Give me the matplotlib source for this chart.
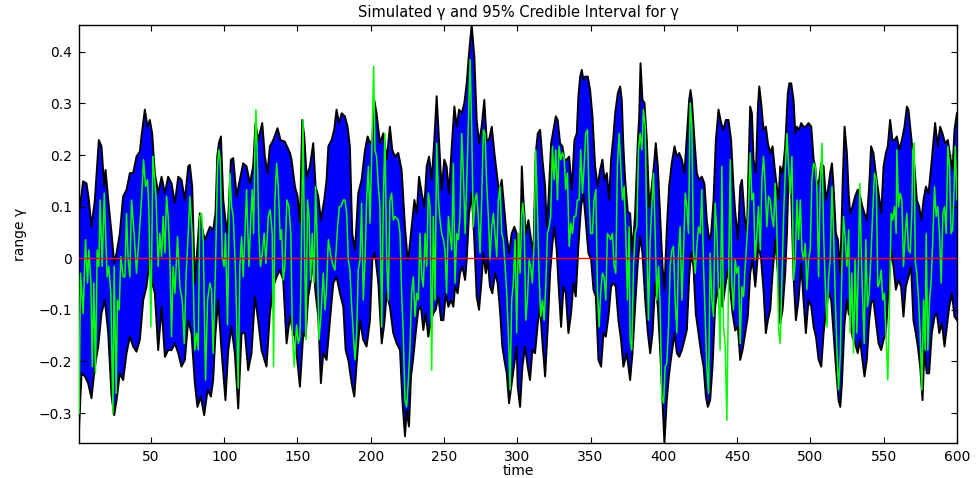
import numpy as np
import matplotlib
matplotlib.use("Agg")
import matplotlib.pyplot as plt

plt.rcParams['font.family'] = ['DejaVu Sans']

# ---- data ----
t_upper = [1, 3.8, 6.1, 7.7, 9.5, 11.8, 14.5, 16.3, 18.2, 19.1, 20.9, 23.2, 25.0, 26.6, 28.8, 31.1, 33.4, 35.7, 37.9, 40.2, 42.5, 43.6, 45.9, 47.7, 49.3, 50.9, 52.7, 55.0, 57.3, 59.6, 61.8, 64.1, 66.4, 68.7, 70.9, 73.2, 75.5,
           76.6, 78.2, 80.0, 81.8, 83.4, 85.7, 86.9, 90.3, 92.5, 94.1, 95.3, 96.4, 97.8, 99.4, 100.9, 102.3, 104.6, 106.2, 108.5, 110.7, 113.0, 115.3, 117.6, 119.8, 121.4, 123.2, 126.0, 127.8, 129.6, 131.2, 133.5, 136.4, 138.5, 141.4, 144.9, 146.0,
           148.3, 150.1, 151.7, 153.3, 154.7, 156.3, 158.5, 160.8, 162.4, 164.2, 166.0, 168.3, 169.9, 171.1, 173.3, 175.1, 176.7, 178.3, 180.2, 182.4, 184.2, 185.8, 187.4, 189.3, 191.5, 193.8, 196.1, 197.9, 199.5, 201.1, 202.4, 204.0, 206.3, 208.6, 210.9, 213.1, 214.7, 216.5, 218.8, 221.1, 223.4,
           225.2, 226.1, 227.9, 229.8, 231.4, 233.0, 234.8, 236.6, 238.2, 239.8, 241.6, 243.4, 245.0, 246.6, 248.4, 250.2, 251.8, 253.4, 255.3, 257.1, 258.7, 260.3, 262.1, 263.9, 265.5, 267.1, 268.9, 270.7, 272.3, 273.9, 275.7, 277.5, 279.1, 280.7, 282.6, 284.4, 286.0, 287.6, 289.4, 291.2, 292.8, 294.4, 296.2, 298.0, 299.6,
           300.3, 301.9, 303.1, 304.2, 305.8, 307.6, 309.4, 311.0, 312.6, 314.0, 315.6, 317.2, 319.0, 320.1, 321.3, 323.1, 324.7, 326.3, 327.6, 329.2, 330.8, 332.2, 333.8, 335.4, 337.2, 339.0, 340.6, 341.7, 342.9, 344.0, 345.1, 346.3, 348.1, 349.7, 351.3, 353.1, 354.9, 356.5, 358.1, 359.5, 361.1, 362.7, 364.0, 365.6, 366.8, 368.6, 370.2, 371.3, 372.4, 373.6,
           375.4, 377.0, 378.6, 380.4, 382.2, 383.2, 384.1, 385.4, 386.8, 388.4, 390.0, 391.8, 393.6, 394.5, 395.9, 397.5, 399.1, 400.4, 402.0, 403.6, 405.4, 407.3, 408.9, 410.5, 412.3, 414.1, 415.7, 417.3, 418.2, 419.1, 420.9, 422.5, 424.1, 425.9, 427.7, 429.3, 430.9, 432.3, 433.9, 435.5, 437.3, 439.1, 440.7, 442.3, 444.1, 445.9, 447.5,
           448.7, 450.5, 452.1, 453.3, 455.1, 456.7, 457.8, 458.9, 460.1, 461.2, 462.8, 464.2, 465.1, 466.4, 468.0, 469.6, 471.0, 472.6, 474.2, 475.5, 477.1, 478.3, 479.4, 481.0, 482.8, 484.6, 485.6, 486.9, 488.5, 489.7, 490.8, 492.4, 493.7, 495.3, 496.9, 498.7, 500.6, 502.2, 503.3, 504.4, 506.0, 507.4, 509.0, 510.6, 512.0, 513.5, 514.7, 515.8, 517.4, 518.8, 520.4, 522.0, 523.3, 524.9, 526.1,
           527.1, 528.7, 530.5, 532.3, 533.9, 535.5, 536.9, 538.5, 540.1, 541.4, 543.0, 544.6, 546.5, 548.3, 549.9, 551.5, 552.8, 554.4, 556.0, 557.4, 559.0, 560.6, 562.4, 564.2, 565.8, 566.9, 568.1, 569.2, 571.0, 572.6, 574.2, 575.6, 577.2, 578.8, 580.6, 582.4, 584.0, 585.1, 586.9, 588.5, 590.1, 591.9, 593.8, 595.4, 597.0, 598.3, 600.0]
upper = [0.087, 0.149, 0.145, 0.113, 0.061, 0.113, 0.229, 0.217, 0.139, 0.171, 0.113, 0.048, -0.010, 0.010, 0.048, 0.120, 0.133, 0.165, 0.165, 0.197, 0.207, 0.236, 0.288, 0.255, 0.268, 0.242, 0.165, 0.126, 0.158, 0.126, 0.158, 0.145, 0.107, 0.158, 0.152, 0.113, 0.178,
         0.181, 0.139, -0.048, 0.023, 0.087, 0.048, 0.036, 0.061, 0.055, 0.087, 0.197, 0.223, 0.236, 0.113, 0.074, 0.048, 0.191, 0.194, 0.120, 0.152, 0.184, 0.178, 0.145, 0.178, 0.262, 0.229, 0.262, 0.197, 0.165, 0.217, 0.229, 0.252, 0.229, 0.226, 0.204, 0.191,
         0.139, 0.120, 0.070, 0.268, 0.236, 0.158, 0.178, 0.223, 0.139, 0.120, 0.074, 0.113, 0.152, 0.217, 0.229, 0.249, 0.288, 0.262, 0.281, 0.275, 0.255, 0.217, 0.048, 0.016, 0.126, 0.152, 0.210, 0.236, 0.223, 0.229, 0.307, 0.281, 0.223, 0.242, 0.191, 0.255, 0.210, 0.197, 0.204, 0.171, 0.060,
         -0.003, 0.010, 0.061, 0.113, 0.087, 0.158, 0.126, 0.100, 0.178, 0.197, 0.152, 0.229, 0.314, 0.229, 0.133, 0.191, 0.178, 0.126, 0.217, 0.294, 0.255, 0.288, 0.281, 0.301, 0.339, 0.398, 0.452, 0.391, 0.268, 0.223, 0.255, 0.307, 0.229, 0.229, 0.255, 0.204, 0.165, 0.126, 0.152, 0.094, 0.042, 0.010, 0.048, 0.061, 0.048,
         -0.029, -0.003, 0.178, 0.113, 0.048, 0.074, 0.036, 0.010, 0.204, 0.242, 0.249, 0.191, 0.139, 0.061, 0.113, 0.223, 0.249, 0.275, 0.268, 0.223, 0.217, 0.191, 0.191, 0.197, 0.133, 0.229, 0.242, 0.314, 0.352, 0.365, 0.346, 0.352, 0.352, 0.326, 0.275, 0.178, 0.139, 0.171, 0.191, 0.152, 0.165, 0.113, 0.191, 0.236, 0.281, 0.320, 0.333, 0.307, 0.217, 0.152,
         0.090, 0.087, 0.010, 0.087, 0.223, 0.275, 0.378, 0.307, 0.301, 0.229, 0.100, 0.139, 0.191, 0.223, 0.178, 0.081, -0.016, -0.061, 0.055, 0.139, 0.184, 0.217, 0.197, 0.204, 0.191, 0.165, 0.236, 0.307, 0.326, 0.307, 0.229, 0.165, 0.152, 0.158, 0.145, 0.074, 0.036, 0.048, 0.113, 0.229, 0.288, 0.262, 0.249, 0.268, 0.268, 0.229, 0.139,
         0.090, 0.036, 0.139, 0.152, 0.081, 0.048, 0.178, 0.294, 0.281, 0.191, 0.165, 0.294, 0.333, 0.301, 0.249, 0.255, 0.223, 0.204, 0.217, 0.178, 0.139, 0.113, 0.178, 0.165, 0.217, 0.320, 0.339, 0.339, 0.307, 0.242, 0.255, 0.249, 0.262, 0.255, 0.255, 0.262, 0.255, 0.191, 0.178, 0.139, 0.152, 0.184, 0.178, 0.113, 0.133, 0.165, 0.184, 0.139, 0.048, 0.036, -0.029, 0.145, 0.255, 0.204, 0.126,
         0.087, 0.100, 0.120, 0.133, 0.120, 0.100, 0.087, 0.074, 0.139, 0.217, 0.204, 0.165, 0.126, 0.087, 0.178, 0.204, 0.217, 0.268, 0.229, 0.229, 0.236, 0.210, 0.229, 0.255, 0.294, 0.288, 0.255, 0.223, 0.178, 0.113, 0.100, 0.074, 0.113, 0.139, 0.126, 0.178, 0.229, 0.262, 0.217, 0.255, 0.242, 0.223, 0.229, 0.197, 0.171, 0.249, 0.281]

t_lower = [1, 2.7, 5.0, 7.2, 9.5, 11.8, 14.1, 16.3, 18.6, 20.9, 23.2, 25.0, 26.6, 28.8, 31.1, 33.4, 35.7, 37.9, 40.2, 42.5, 44.8, 47.0, 49.3, 50.9, 52.7, 55.0, 57.3, 59.6, 61.8, 64.1, 66.4, 68.7, 70.9, 73.2,
           75.5, 77.7, 80.0, 81.8, 84.1, 86.4, 88.7, 91.0, 92.5, 94.1, 95.9, 98.2, 100.9, 102.8, 105.0, 107.3, 109.6, 111.9, 114.2, 116.4, 118.7, 121.0, 123.2, 125.5, 128.9, 131.2, 133.5, 135.8, 138.0, 140.3, 142.6, 144.9, 147.1,
           148.3, 150.1, 151.7, 154.0, 155.6, 157.4, 159.2, 160.8, 162.4, 164.2, 166.0, 167.6, 169.9, 172.2, 174.5, 176.7, 179.0, 181.3, 182.9, 184.7, 187.0, 188.8, 190.4, 192.7, 194.9, 197.2, 199.5, 201.1, 202.9, 205.2, 207.5, 209.3, 210.9, 213.1, 215.4, 217.7, 220.0, 221.6, 223.4,
           224.5, 226.1, 227.5, 229.1, 230.7, 232.5, 234.3, 235.9, 237.5, 239.3, 241.1, 242.7, 244.3, 246.2, 248.0, 249.6, 251.2, 253.0, 254.8, 256.4, 257.5, 259.3, 260.9, 262.5, 264.4, 265.5, 267.1, 268.9, 270.7, 272.3, 273.9, 275.3, 276.9, 278.5, 279.8, 281.4, 283.0, 284.8, 286.6, 288.2, 289.8, 291.2, 292.8, 294.4, 296.2, 298.0, 299.6,
           300.3, 301.9, 303.5, 305.3, 307.1, 308.7, 310.3, 312.1, 314.0, 315.6, 317.2, 319.0, 320.8, 322.4, 324.0, 325.3, 326.9, 328.1, 329.9, 331.5, 333.1, 334.9, 336.7, 338.3, 339.9, 341.7, 343.5, 345.1, 346.7, 348.5, 350.4, 352.0, 353.6, 355.4, 357.2, 358.8, 360.4, 362.2, 364.0, 365.6, 367.2, 369.0, 370.8, 372.4, 374.7,
           377.0, 378.6, 380.4, 382.2, 383.8, 385.4, 387.3, 389.1, 390.7, 392.3, 394.1, 395.9, 397.5, 399.1, 400.4, 402.0, 403.6, 405.4, 407.3, 408.9, 410.5, 412.3, 414.1, 415.7, 417.3, 418.6, 420.2, 421.8, 423.6, 425.5, 427.1, 428.7, 430.0, 431.6, 433.2, 435.0, 436.8, 438.4, 440.0, 441.9, 443.7, 445.3, 446.9, 448.7,
           450.5, 452.1, 453.7, 455.5, 457.3, 458.9, 460.5, 462.4, 463.5, 464.6, 466.4, 468.0, 469.6, 471.0, 472.6, 474.2, 476.0, 477.8, 479.4, 481.0, 482.8, 484.0, 485.1, 486.9, 488.5, 490.1, 491.9, 493.7, 495.3, 496.9, 498.7, 500.6, 502.2, 503.8, 505.6, 507.4, 509.0, 510.6, 512.4, 514.2, 515.8, 517.4, 519.2, 520.4, 521.5, 523.3, 524.9, 526.1,
           527.1, 528.7, 530.5, 532.3, 533.9, 535.5, 536.9, 538.5, 540.1, 541.4, 543.0, 544.6, 546.5, 548.3, 549.9, 551.5, 553.3, 555.1, 556.7, 558.3, 560.1, 561.9, 563.5, 565.1, 566.9, 568.7, 570.3, 571.9, 573.3, 574.9, 576.5, 577.8, 579.4, 581.0, 582.8, 584.7, 586.3, 587.9, 589.7, 591.5, 593.1, 594.7, 596.5, 598.3, 600.0]
lower = [-0.330, -0.223, -0.229, -0.242, -0.271, -0.210, -0.171, -0.107, -0.081, -0.145, -0.268, -0.304, -0.275, -0.223, -0.236, -0.184, -0.152, -0.171, -0.181, -0.158, -0.081, -0.055, -0.003, -0.048, -0.068, -0.178, -0.094, -0.191, -0.178, -0.178, -0.165, -0.184, -0.210, -0.197,
         -0.120, -0.145, -0.242, -0.288, -0.268, -0.304, -0.255, -0.268, -0.236, -0.145, -0.081, -0.178, -0.275, -0.178, -0.133, -0.184, -0.291, -0.145, -0.145, -0.217, -0.184, -0.074, -0.120, -0.178, -0.210, -0.107, -0.055, -0.036, -0.023, -0.042, -0.165, -0.113, -0.145,
         -0.152, -0.204, -0.249, -0.145, -0.152, -0.074, -0.042, -0.003, -0.068, -0.113, -0.242, -0.184, -0.197, -0.120, -0.048, -0.036, -0.068, -0.094, -0.178, -0.197, -0.242, -0.268, -0.204, -0.120, -0.158, -0.171, -0.120, -0.003, 0.010, -0.048, -0.165, -0.126, -0.068, -0.094, -0.145, -0.165, -0.178, -0.275, -0.345,
         -0.294, -0.326, -0.229, -0.191, -0.145, -0.100, -0.094, -0.139, -0.107, -0.152, -0.120, -0.107, -0.100, -0.074, -0.120, -0.120, -0.068, -0.094, -0.081, -0.094, -0.055, -0.068, -0.029, -0.016, -0.042, -0.003, 0.087, 0.126, 0.036, -0.074, -0.100, -0.055, 0.010, -0.029, -0.003, -0.055, -0.068, -0.029, -0.048, -0.100, -0.171, -0.197, -0.223, -0.281, -0.242, -0.204, -0.171,
         -0.249, -0.288, -0.210, -0.171, -0.210, -0.236, -0.178, -0.184, -0.126, -0.094, -0.165, -0.229, -0.133, -0.029, 0.029, 0.061, 0.016, -0.048, -0.133, -0.055, -0.068, -0.145, -0.107, -0.048, -0.074, 0.023, 0.100, 0.126, 0.074, 0.010, -0.003, -0.061, -0.074, -0.197, -0.210, -0.145, -0.152, -0.113, -0.055, -0.048, -0.055, -0.120, -0.158, -0.210, -0.184,
         -0.236, -0.184, -0.094, -0.010, 0.042, 0.010, -0.081, -0.145, -0.184, -0.145, -0.048, -0.094, -0.178, -0.275, -0.358, -0.275, -0.223, -0.184, -0.145, -0.184, -0.191, -0.178, -0.158, -0.139, -0.036, 0.010, -0.016, -0.107, -0.145, -0.184, -0.210, -0.268, -0.288, -0.275, -0.210, -0.094, -0.061, -0.048, -0.094, -0.055, -0.023, -0.061, -0.107, -0.140,
         -0.133, -0.197, -0.178, -0.145, -0.113, -0.029, -0.003, -0.055, -0.016, 0.029, -0.003, -0.061, -0.145, -0.120, -0.100, -0.029, 0.036, -0.029, -0.126, -0.100, -0.029, 0.048, 0.158, 0.126, -0.036, -0.120, -0.081, -0.010, -0.081, -0.145, -0.081, -0.094, -0.133, -0.152, -0.197, -0.210, -0.145, -0.100, -0.068, -0.081, -0.145, -0.210, -0.275, -0.288, -0.242, -0.126, -0.081, -0.107,
         -0.113, -0.152, -0.165, -0.184, -0.158, -0.197, -0.229, -0.197, -0.120, -0.087, -0.081, -0.120, -0.165, -0.178, -0.158, -0.145, -0.061, 0.016, -0.016, -0.061, -0.042, -0.055, -0.113, -0.055, -0.036, -0.016, -0.120, -0.145, -0.171, -0.210, -0.275, -0.178, -0.223, -0.223, -0.145, -0.113, -0.107, -0.145, -0.126, -0.171, -0.133, -0.094, -0.068, -0.113, -0.120]

t_sim = [1, 2, 3.8, 5.4, 6.8, 7.7, 9.1, 10.0, 11.1, 12.2, 13.4, 14.5, 15.4, 16.8, 18.2, 19.1, 20.2, 21.3, 22.7, 24.1, 25.0, 26.3, 27.2, 28.4, 29.5, 31.1, 32.3, 33.4, 34.5, 35.7, 36.8, 38.6, 40.2, 41.8, 43.6, 45.0, 46.4, 47.7, 48.6, 50.0, 51.4, 52.3, 53.6, 55.0, 56.1, 57.3, 58.4, 59.6, 60.7, 61.8, 63.0, 64.1, 65.2, 66.4, 68.2, 69.8, 71.4, 72.8, 74.1, 75.5,
         76.6, 78.2, 80.0, 81.2, 82.3, 83.4, 84.6, 85.7, 87.3, 88.7, 90.3, 91.4, 92.5, 94.1, 95.5, 96.4, 97.3, 98.7, 100.0, 100.9, 102.3, 103.9, 105.1, 106.2, 107.8, 109.6, 110.7, 111.9, 113.0, 114.2, 115.3, 116.9, 118.2, 119.2, 120.1, 121.0, 121.7, 122.8, 123.7, 124.8, 126.0, 127.3, 128.5, 130.1, 131.4, 132.8, 133.7, 134.6, 135.8, 136.9, 138.3, 139.2, 140.3, 141.4, 142.8, 144.2, 145.5, 146.5, 147.8,
         149.4, 150.6, 151.7, 152.4, 153.8, 154.7, 155.8, 156.9, 157.9, 159.0, 160.1, 161.3, 162.4, 163.5, 164.7, 166.0, 167.6, 168.8, 169.9, 171.1, 172.2, 173.3, 174.5, 175.6, 177.4, 178.6, 179.7, 181.3, 182.4, 183.6, 184.7, 185.8, 187.0, 188.1, 189.3, 190.4, 191.5, 192.7, 193.8, 194.9, 196.1, 197.2, 198.4, 199.5, 200.6, 202.0, 202.9, 204.0, 205.2, 206.3, 207.5, 208.6, 209.7, 210.9, 212.0, 213.1, 214.3, 215.4, 216.5, 218.8, 220.0, 221.1, 222.2, 223.4, 224.5, 225.7,
         226.8, 227.9, 229.1, 230.2, 231.4, 232.5, 233.6, 234.8, 235.9, 237.1, 238.2, 239.3, 240.5, 241.6, 242.7, 243.9, 245.0, 246.2, 247.3, 248.4, 249.6, 250.7, 251.8, 253.0, 254.1, 255.3, 256.4, 257.5, 258.7, 259.8, 260.9, 262.1, 263.2, 264.4, 265.5, 266.6, 267.8, 268.9, 270.0, 271.2, 272.3, 273.4, 274.6, 275.7, 276.9, 278.0, 279.1, 280.3, 281.4, 282.6, 283.7, 284.8, 286.0, 287.1, 288.2, 289.4, 290.5, 291.7, 292.8, 293.9, 295.1, 296.2, 297.3, 298.5, 299.6, 300.8,
         301.9, 303.1, 303.7, 304.6, 305.8, 306.9, 308.1, 309.2, 310.3, 311.5, 312.6, 313.7, 314.9, 316.0, 317.2, 318.3, 319.4, 320.6, 321.7, 322.8, 324.0, 325.1, 326.3, 327.4, 328.5, 329.7, 330.8, 331.9, 333.1, 334.2, 335.4, 336.5, 337.6, 338.8, 339.9, 341.0, 342.2, 343.3, 344.5, 345.6, 346.7, 347.9, 349.0, 350.1, 351.3, 352.4, 353.6, 354.7, 355.8, 357.0, 358.1, 359.2, 360.4, 361.5, 362.7, 363.8, 364.9, 366.1, 367.2, 368.3, 369.5, 370.6, 371.8, 372.9, 374.0, 375.2, 376.3,
         377.0, 378.1, 379.3, 380.4, 381.6, 382.7, 383.8, 385.0, 386.1, 387.3, 388.4, 389.5, 390.7, 391.8, 392.9, 394.1, 395.2, 396.4, 397.5, 398.6, 399.8, 400.9, 402.0, 403.2, 404.3, 405.5, 406.6, 407.7, 408.9, 410.0, 411.1, 412.3, 413.4, 414.6, 415.7, 416.8, 418.0, 419.1, 420.2, 421.4, 422.5, 423.7, 424.8, 425.9, 427.1, 428.2, 429.3, 430.5, 431.6, 432.8, 433.9, 435.0, 436.2, 437.3, 438.4, 439.6, 440.7, 441.9, 443.0, 444.1, 445.3, 446.4, 447.5, 448.7, 449.8, 451.0,
         452.1, 453.3, 454.4, 455.5, 456.7, 457.8, 458.9, 460.1, 461.2, 462.3, 463.5, 464.6, 465.8, 466.9, 468.0, 469.2, 470.3, 471.5, 472.6, 473.7, 474.9, 476.0, 477.1, 478.3, 479.4, 480.6, 481.7, 482.8, 484.0, 485.1, 486.2, 487.4, 488.5, 489.7, 490.8, 491.9, 493.1, 494.2, 495.3, 496.5, 497.6, 498.7, 499.9, 501.0, 502.2, 503.3, 504.4, 505.6, 506.7, 507.9, 509.0, 510.1, 511.3, 512.4, 513.5, 514.7, 515.8, 517.0, 518.1, 519.2, 520.4, 521.5, 522.6, 523.8, 524.9, 526.1,
         527.1, 528.2, 529.4, 530.5, 531.7, 532.8, 533.7, 534.6, 535.5, 536.7, 537.8, 538.9, 540.1, 541.2, 542.4, 543.7, 544.9, 546.0, 547.1, 548.3, 549.4, 550.5, 551.7, 552.8, 554.0, 555.1, 556.2, 557.4, 558.5, 559.0, 560.1, 561.2, 562.4, 563.5, 564.7, 565.8, 566.9, 568.1, 569.2, 569.9, 570.8, 571.5, 572.6, 573.8, 574.9, 576.0, 577.2, 578.3, 579.0, 580.1, 581.3, 582.4, 583.5, 584.7, 585.8, 586.9, 588.1, 589.2, 590.4, 591.5, 592.6, 593.8, 594.9, 596.0, 597.0, 598.1, 598.8, 600.0]
sim = [-0.300, -0.029, -0.107, 0.036, -0.048, 0.016, -0.048, -0.210, -0.048, -0.223, 0.016, -0.016, 0.113, -0.016, 0.126, 0.048, -0.036, -0.016, -0.068, -0.301, -0.016, -0.262, -0.081, -0.100, 0.003, -0.036, -0.036, 0.087, -0.003, -0.036, 0.113, 0.048, -0.029, 0.036, 0.113, 0.191, 0.139, 0.152, 0.100, -0.133, 0.197, 0.165, 0.113, -0.016, 0.048, 0.003, 0.081, 0.010, 0.120, 0.081, -0.003, -0.152, -0.016, -0.068, 0.042, -0.055, -0.081, -0.165, -0.029, 0.048,
       0.120, 0.048, -0.178, -0.145, -0.178, 0.081, 0.087, 0.036, -0.236, -0.081, -0.048, -0.061, -0.184, -0.016, 0.178, 0.210, 0.191, 0.003, -0.016, 0.048, -0.129, 0.165, 0.100, 0.081, -0.029, -0.252, -0.016, 0.042, -0.036, 0.048, 0.133, -0.016, 0.081, 0.133, 0.048, 0.210, 0.288, 0.178, 0.048, -0.016, 0.010, 0.048, -0.010, 0.081, 0.094, 0.048, -0.210, 0.113, 0.184, 0.139, 0.036, 0.055, -0.042, -0.016, 0.113, 0.100, 0.048, -0.145, -0.210,
       -0.129, -0.165, -0.152, -0.048, 0.268, 0.048, -0.158, 0.113, 0.081, -0.042, 0.048, -0.048, 0.139, 0.029, -0.158, -0.113, -0.029, -0.100, -0.055, 0.036, 0.016, -0.003, -0.016, -0.023, 0.061, 0.100, 0.100, 0.113, 0.113, 0.087, -0.003, -0.023, -0.094, -0.145, -0.197, -0.145, -0.023, -0.003, 0.107, -0.081, -0.003, 0.113, 0.178, 0.068, 0.191, 0.372, 0.210, 0.197, 0.139, 0.100, -0.133, 0.107, 0.242, -0.003, -0.081, 0.113, 0.126, 0.074, 0.081, 0.074, 0.048, -0.068, -0.145, -0.275, -0.288, -0.236,
       -0.171, -0.068, -0.036, -0.113, -0.068, -0.081, 0.048, -0.036, -0.055, 0.048, -0.016, 0.126, 0.100, -0.217, 0.081, -0.081, 0.223, 0.113, 0.074, 0.048, 0.036, 0.016, -0.068, 0.081, 0.048, 0.016, 0.184, -0.048, 0.048, 0.036, 0.081, 0.242, 0.165, 0.048, 0.145, 0.255, 0.385, 0.255, 0.061, 0.113, 0.126, 0.081, 0.010, 0.113, 0.249, 0.242, 0.145, 0.081, -0.003, 0.061, 0.087, 0.048, 0.003, 0.113, 0.139, 0.048, 0.036, -0.016, -0.068, -0.145, -0.255, -0.081, -0.048, 0.036, -0.145, 0.048,
       -0.029, 0.087, 0.107, 0.081, -0.120, -0.081, -0.003, -0.016, -0.048, 0.029, 0.210, 0.100, -0.036, -0.113, -0.081, -0.120, -0.055, 0.048, 0.061, 0.081, 0.217, 0.152, 0.210, 0.113, 0.217, 0.191, 0.204, 0.197, 0.133, 0.165, 0.023, 0.068, 0.048, 0.081, 0.081, 0.113, 0.113, 0.210, 0.126, 0.178, 0.242, 0.249, 0.113, 0.048, 0.048, 0.113, 0.133, -0.061, -0.133, -0.061, -0.029, -0.036, -0.081, 0.048, 0.042, 0.036, 0.048, -0.016, -0.029, 0.178, 0.242, 0.178, 0.113, 0.139, 0.048, -0.081, 0.061,
       -0.158, -0.178, -0.016, 0.048, 0.061, 0.210, 0.242, 0.210, 0.288, 0.255, 0.048, -0.120, 0.036, 0.100, 0.165, 0.048, -0.081, -0.016, -0.094, -0.268, -0.281, -0.210, -0.204, -0.133, -0.016, 0.016, 0.023, -0.081, -0.145, 0.010, 0.061, -0.081, 0.010, 0.126, 0.100, 0.048, 0.301, 0.255, 0.016, -0.029, 0.023, 0.061, 0.048, 0.133, -0.016, -0.113, -0.210, -0.262, 0.010, -0.081, -0.113, 0.107, 0.048, -0.068, -0.178, 0.178, -0.133, -0.171, -0.314, -0.055, 0.191, -0.048, -0.100, -0.003, -0.029, -0.016,
       -0.165, -0.055, -0.074, -0.016, 0.036, 0.100, 0.204, 0.113, 0.126, -0.003, 0.048, 0.100, 0.016, 0.152, 0.197, 0.139, 0.061, 0.120, 0.113, 0.081, 0.061, 0.145, 0.061, -0.139, -0.165, -0.036, 0.081, 0.165, 0.242, 0.178, 0.126, 0.197, -0.042, -0.003, 0.113, 0.036, 0.113, 0.016, -0.003, 0.029, -0.061, -0.003, 0.016, 0.152, 0.184, 0.178, 0.139, -0.036, 0.139, 0.223, 0.048, -0.048, -0.133, -0.036, -0.003, 0.139, 0.048, -0.081, -0.178, -0.255, -0.184, -0.016, 0.081, 0.036, -0.016, 0.055,
       -0.145, -0.029, -0.184, -0.003, -0.145, -0.003, 0.145, 0.023, -0.068, -0.165, 0.036, -0.094, -0.068, -0.003, 0.081, 0.165, 0.152, -0.055, -0.048, -0.023, -0.081, -0.068, -0.158, -0.236, -0.081, 0.087, 0.074, 0.100, 0.048, 0.210, 0.100, 0.126, 0.113, -0.016, 0.048, 0.087, 0.016, 0.010, 0.087, 0.210, 0.223, -0.003, -0.029, -0.081, -0.145, -0.255, -0.081, -0.178, 0.048, -0.178, -0.081, -0.042, 0.036, 0.139, 0.081, 0.100, 0.048, -0.048, 0.087, 0.100, 0.048, 0.217, 0.178, 0.048, 0.055, 0.139, 0.217, 0.113]

title_text = "Simulated \u03b3 and 95% Credible Interval for \u03b3"
xlabel_text = "time"
ylabel_text = "range \u03b3"
x_ticks = [50, 100, 150, 200, 250, 300, 350, 400, 450, 500, 550, 600]
y_ticks = [-0.3, -0.2, -0.1, 0, 0.1, 0.2, 0.3, 0.4]
y_tick_labels = ["\u22120.3", "\u22120.2", "\u22120.1", "0", "0.1", "0.2", "0.3", "0.4"]

# ---- figure ----
fig = plt.figure(figsize=(9.77, 4.78), dpi=100)
ax = fig.add_axes([0.0809, 0.0732, 0.8986, 0.8745])

poly_x = np.concatenate([t_upper, t_lower[::-1]])
poly_y = np.concatenate([upper, lower[::-1]])
ax.fill(poly_x, poly_y, color=(0, 0, 1), lw=0, zorder=1)
ax.plot(t_upper, upper, color='black', lw=1.4, zorder=2)
ax.plot(t_lower, lower, color='black', lw=1.4, zorder=2)
ax.plot(t_sim, sim, color=(0, 1, 0), lw=1.1, zorder=3)
ax.axhline(0, color=(1, 0, 0), lw=1.0, zorder=4)

ax.set_xlim(1, 600)
ax.set_ylim(-0.358, 0.452)
ax.set_xticks(x_ticks)
ax.set_yticks(y_ticks)
ax.set_yticklabels(y_tick_labels)
ax.tick_params(direction='in', length=4, width=0.8, top=True, right=True,
               labelsize=10, pad=5, colors='black')
for s in ax.spines.values():
    s.set_linewidth(1.0)
    s.set_color('black')

ax.set_title(title_text, fontsize=10.5, pad=6)
ax.set_xlabel(xlabel_text, fontsize=10, labelpad=0)
ax.set_ylabel(ylabel_text, fontsize=10, labelpad=8)

fig.savefig("out.png", dpi=100)
